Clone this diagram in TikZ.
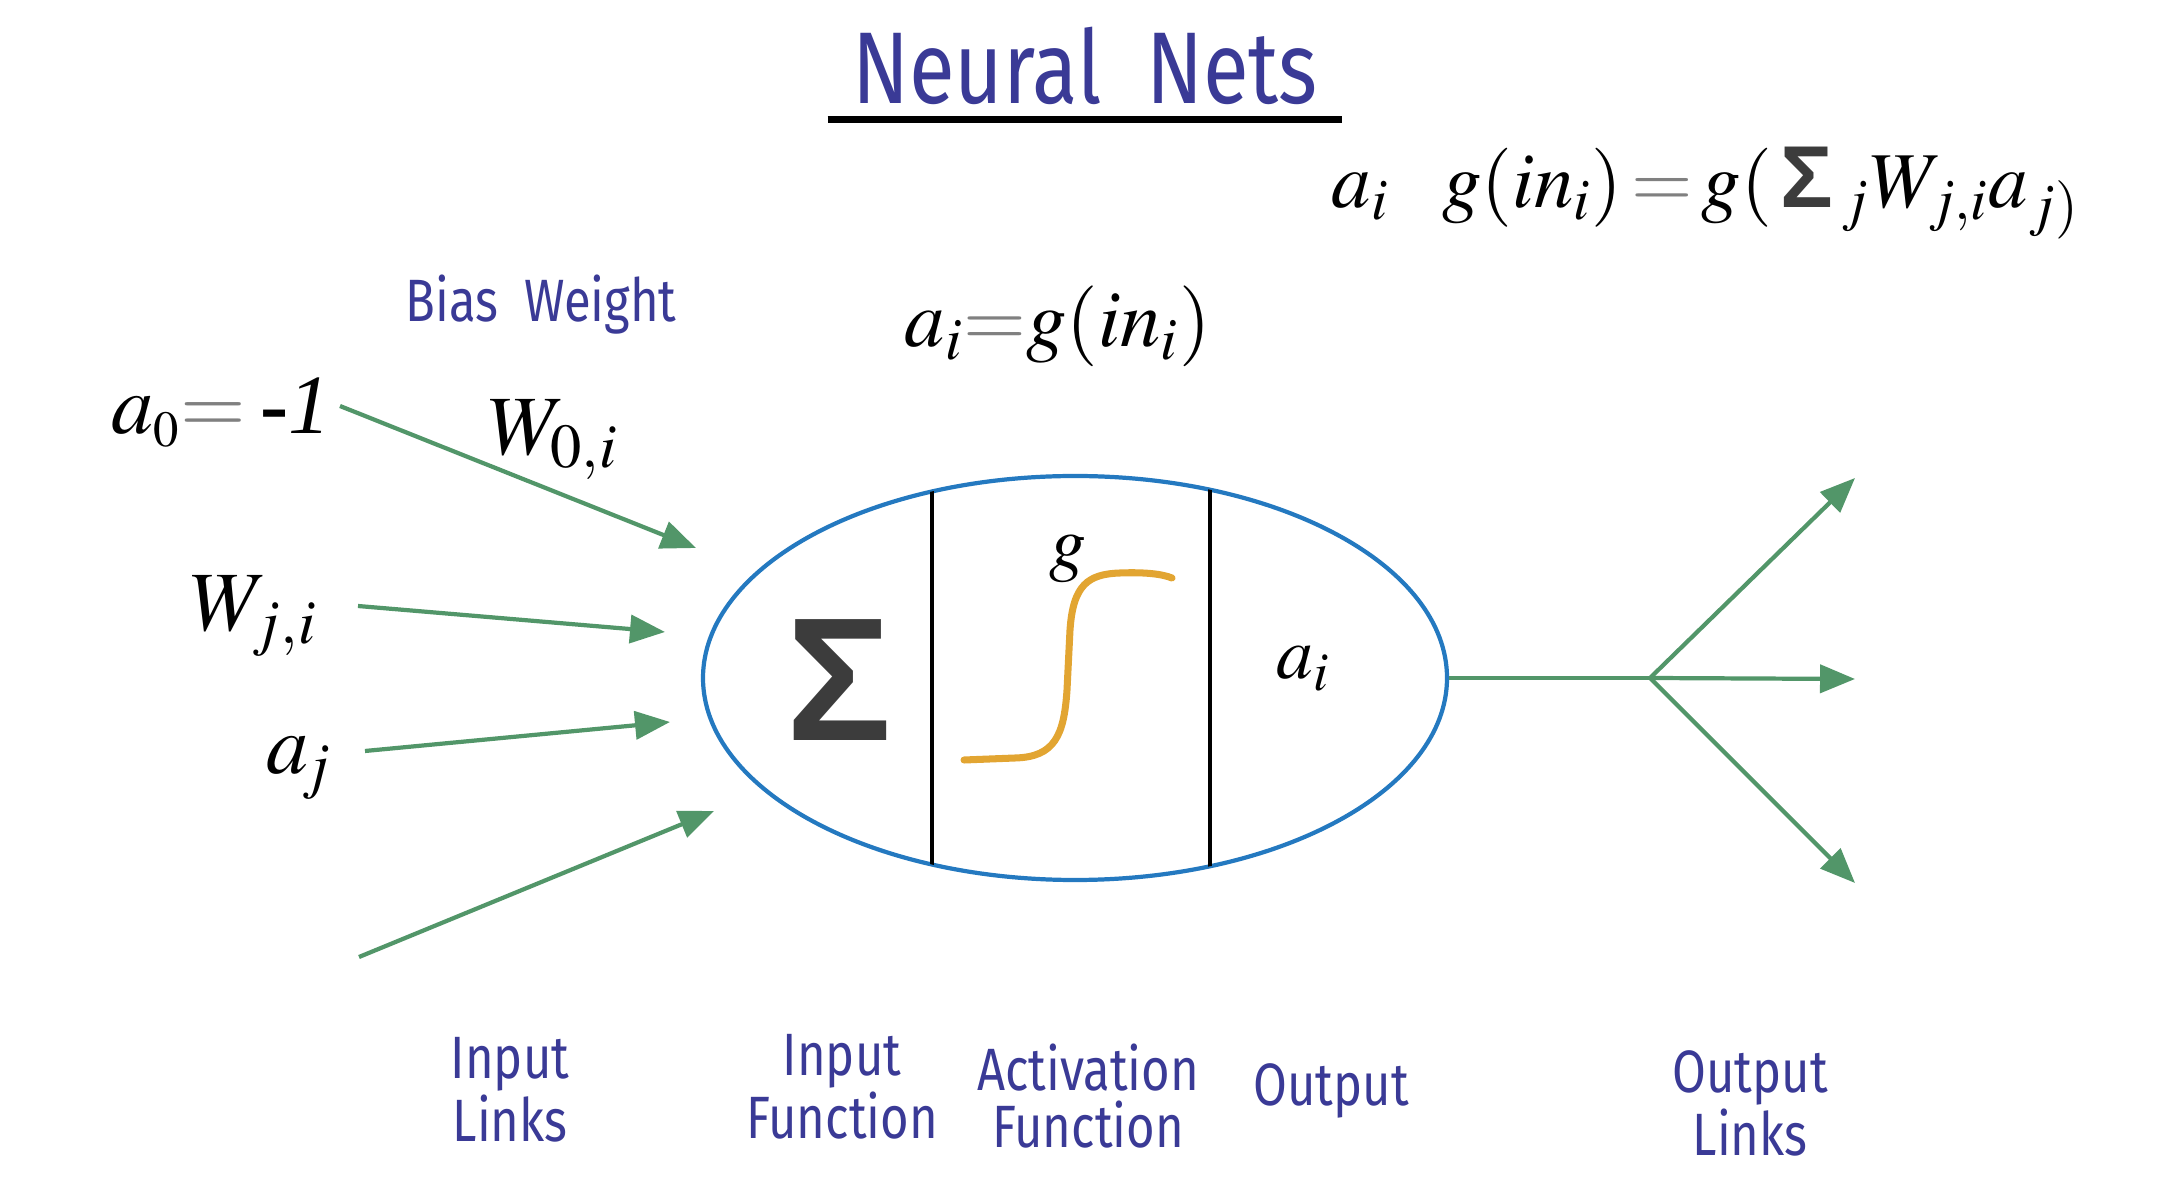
\documentclass[tikz,border=0pt]{standalone}
\usepackage{mathptmx}
\usepackage[no-math]{fontspec}
\setmainfont{Liberation Serif}
\newfontfamily\handfont{Fira Sans}[FakeStretch=0.82]
\newfontfamily\sigmafont{Liberation Sans}
\usepackage{tikz}
\usetikzlibrary{arrows.meta,positioning,shapes.geometric}
\usepackage{xcolor}
\definecolor{inkblue}{RGB}{58,58,150}
\definecolor{linkgreen}{RGB}{82,150,105}
\definecolor{cellblue}{RGB}{36,121,192}
\definecolor{sigorange}{RGB}{226,165,50}
\definecolor{sigmagray}{RGB}{60,60,60}

\begin{document}
\begin{tikzpicture}[
  hand/.style={font=\handfont\fontsize{17}{16}\selectfont, text=inkblue, align=center},
  sym/.style={font=\fontsize{24}{28}\selectfont, inner sep=0pt},
  arr/.style={-{Triangle[length=0.35cm,width=0.28cm]}, line width=1.2pt, draw=linkgreen},
  wire/.style={line width=1.2pt, draw=linkgreen},
  cell/.style={draw=cellblue, line width=1.2pt, ellipse, inner sep=0pt,
    minimum width=7.44cm, minimum height=4.04cm}
]
\useasboundingbox (0,0) rectangle (21.74,-12.02);

% Title
\node[hand, font=\handfont\fontsize{29}{34}\selectfont] (title) at (10.85,-0.66) {Neural\ \ Nets};
\draw[line width=2pt] ([xshift=-0.12cm,yshift=-0.02cm]title.south west) -- ([xshift=0.12cm,yshift=-0.02cm]title.south east);

% Formulas
\newcommand{\gsum}{{\sigmafont\bfseries\color{sigmagray}\fontsize{25}{26}\selectfont\char"03A3}}
\node[sym, font=\fontsize{22.5}{26}\selectfont, anchor=base west] (eqfull) at (13.31,-2.08)
  {$a_i\;\;\; g(in_i)\,\textcolor{gray}{=}\,g(\,$\gsum$\,_jW_{j,i}a_{j)}$};
\node[sym, font=\fontsize{23}{26}\selectfont, anchor=base west] (eqact) at (9.04,-3.47) {$a_i\textcolor{gray}{=}g(in_i)$};

% Input side
\node[hand] (bias) at (5.41,-3.05) {Bias\ \ Weight};
\node[sym, anchor=base west] (a0) at (1.11,-4.34) {$a_{\scriptscriptstyle 0}\textcolor{gray}{=}$\,\textbf{-}\textit{1}};
\node[sym, anchor=base west] (w0) at (4.88,-4.55) {$W_{0,i}$};
\node[sym, anchor=base west] (wji) at (1.90,-6.31) {$W_{j,i}$};
\node[sym, anchor=base west] (aj) at (2.66,-7.74) {$a_{\!j}$};

\coordinate (s0) at (3.40,-4.06);  \coordinate (e0) at (6.96,-5.48);
\coordinate (s1) at (3.58,-6.06);  \coordinate (e1) at (6.65,-6.32);
\coordinate (s2) at (3.65,-7.51);  \coordinate (e2) at (6.70,-7.22);
\coordinate (s3) at (3.59,-9.57);  \coordinate (e3) at (7.14,-8.11);
\foreach \k in {0,...,3}
  \draw[arr] (s\k) -- (e\k);

% Neuron
\node[cell] (neuron) at (10.75,-6.78) {};
\begin{scope}
  \clip (neuron.center) ellipse [x radius=3.72cm, y radius=2.02cm];
  \draw[line width=1.1pt] (9.32,-4) -- (9.32,-9.5);
  \draw[line width=1.1pt] (12.10,-4) -- (12.10,-9.5);
\end{scope}
\node[font=\sigmafont\bfseries\fontsize{50}{50}\selectfont, text=sigmagray] (sum) at (8.39,-6.80) {\char"03A3};
\node[sym, font=\fontsize{21}{24}\selectfont, anchor=base] (gact) at (10.68,-5.68) {$g$};
\draw[sigorange, line width=2pt, line cap=round]
  (9.64,-7.60) -- (10.15,-7.58) .. controls (10.55,-7.57) and (10.64,-7.35) .. (10.67,-6.90)
  -- (10.70,-6.30) .. controls (10.73,-5.85) and (10.88,-5.74) .. (11.20,-5.73)
  .. controls (11.45,-5.72) and (11.62,-5.74) .. (11.72,-5.78);
\node[sym, font=\fontsize{21}{24}\selectfont, anchor=base west] (aout) at (12.76,-6.79) {$a_i$};

% Output side
\coordinate (split) at (16.50,-6.78);
\coordinate (o1) at (18.55,-4.78);
\coordinate (o2) at (18.55,-6.79);
\coordinate (o3) at (18.55,-8.83);
\draw[wire] (neuron.east) -- (split);
\foreach \k in {1,2,3}
  \draw[arr] (split) -- (o\k);

% Bottom captions
\node[hand] (inlinks) at (5.10,-10.90) {Input\\Links};
\node[hand] (infun) at (8.42,-10.87) {Input\\Function};
\node[hand] (actfun) at (10.88,-10.96) {Activation\\Function};
\node[hand] (outcap) at (13.31,-10.91) {Output};
\node[hand] (outlinks) at (17.50,-11.03) {Output\\Links};
\end{tikzpicture}
\end{document}
